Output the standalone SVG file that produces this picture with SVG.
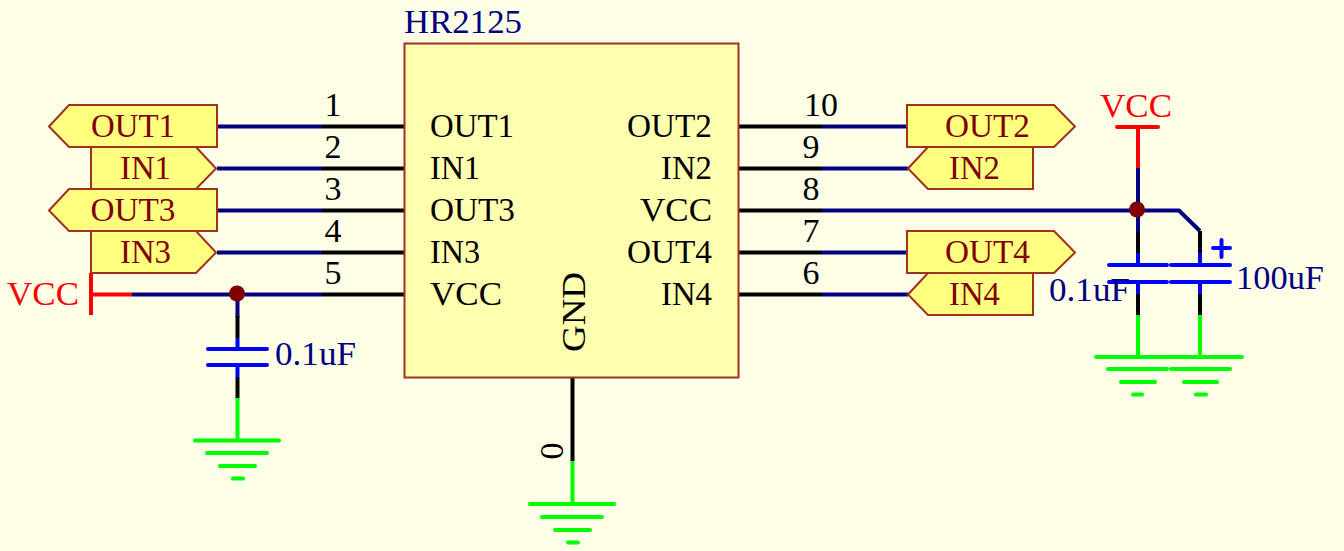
<svg xmlns="http://www.w3.org/2000/svg" width="1344" height="551" viewBox="0 0 1344 551">
<style>
text{font-family:"Liberation Serif","Times New Roman",serif;font-size:34px;lengthAdjust:spacingAndGlyphs}
.port{fill:#ffff80;stroke:#a03020;stroke-width:2}
.pl{fill:#800000;text-anchor:middle}
.pin{fill:#000;text-anchor:middle}
.in{fill:#000}
.val{fill:#000080}
.pwr{fill:#ff0000}
.w{fill:none;stroke-width:4}
.n{stroke:#000080}.k{stroke:#000}.b{stroke:#0000ff;stroke-linecap:round}.g{stroke:#00ff00}.gr{stroke:#00ff00;stroke-linecap:round}.r{stroke:#ff0000}
.j{fill:#800000}
</style>
<rect width="1344" height="551" fill="#ffffe8"/>
<g id="connectors">
<path class="w n" d="M217 126.500H322M217 168.500H322M217 210.500H322M217 252.500H322M132 294.500H322"/>
<path class="w k" d="M322 126.500H405M322 168.500H405M322 210.500H405M322 252.500H405M322 294.500H405"/>
<path class="w k" d="M738 126.500H822M738 168.500H822M738 210.500H822M738 252.500H822M738 294.500H822"/>
<path class="w n" d="M822 126.500H908M822 168.500H908M822 252.500H908M822 294.500H908M822 210.500H1179L1200 231"/>
<path class="w r" d="M91 273V315M91 294.500H132"/>
<path class="w n" d="M237.500 294V317"/>
<path class="w k" d="M237.500 316V338M237.500 377V398M572.500 377V461"/>
<path class="w b" style="stroke-linecap:butt" d="M237.500 338V349M237.500 365V377"/>
<path class="w g" d="M237.500 398V440M572.500 461V504"/>
<path class="w r" d="M1138 127V168"/>
<path class="w n" d="M1138 168V232"/>
<path class="w k" d="M1138 232V253M1200 231V253M1138 294V315M1200 294V315"/>
<path class="w b" style="stroke-linecap:butt" d="M1138 253V265M1200 253V265M1138 282V294M1200 282V294"/>
<path class="w g" d="M1138 315V357M1200 315V357"/>
</g>
<g id="U1">
<rect x="404.500" y="43.500" width="334" height="334" fill="#ffffb0" stroke="#a03020" stroke-width="2"/>
<text x="404" y="33" class="val" textLength="118" lengthAdjust="spacingAndGlyphs">HR2125</text>
<text class="in" x="430" y="137" textLength="84" lengthAdjust="spacingAndGlyphs">OUT1</text>
<text class="in" x="430" y="179" textLength="50" lengthAdjust="spacingAndGlyphs">IN1</text>
<text class="in" x="430" y="221" textLength="85" lengthAdjust="spacingAndGlyphs">OUT3</text>
<text class="in" x="430" y="263" textLength="50" lengthAdjust="spacingAndGlyphs">IN3</text>
<text class="in" x="430" y="305" textLength="72" lengthAdjust="spacingAndGlyphs">VCC</text>
<text class="in" x="627" y="137" textLength="85" lengthAdjust="spacingAndGlyphs">OUT2</text>
<text class="in" x="661" y="179" textLength="51" lengthAdjust="spacingAndGlyphs">IN2</text>
<text class="in" x="640" y="221" textLength="72" lengthAdjust="spacingAndGlyphs">VCC</text>
<text class="in" x="627" y="263" textLength="85" lengthAdjust="spacingAndGlyphs">OUT4</text>
<text class="in" x="661" y="305" textLength="51" lengthAdjust="spacingAndGlyphs">IN4</text>
<text class="in" transform="translate(585 352) rotate(-90)" textLength="80" lengthAdjust="spacingAndGlyphs">GND</text>
<text class="pin" x="333" y="116">1</text>
<text class="pin" x="333" y="158">2</text>
<text class="pin" x="333" y="200">3</text>
<text class="pin" x="333" y="242">4</text>
<text class="pin" x="333" y="284">5</text>
<text class="pin" x="811" y="284">6</text>
<text class="pin" x="811" y="242">7</text>
<text class="pin" x="811" y="200">8</text>
<text class="pin" x="811" y="158">9</text>
<text class="pin" x="821" y="116">10</text>
<text class="pin" transform="translate(563 451) rotate(-90)">0</text>
</g>
<g id="port-OUT1"><polygon class="port" points="49,126.500 69,105 217,105 217,147 69,147"/><text class="pl" x="133" y="137" textLength="84" lengthAdjust="spacingAndGlyphs">OUT1</text></g>
<g id="port-IN1"><polygon class="port" points="91,147 196,147 216,168.500 196,189 91,189"/><text class="pl" x="145.500" y="179" textLength="51" lengthAdjust="spacingAndGlyphs">IN1</text></g>
<g id="port-OUT3"><polygon class="port" points="49,210.500 69,189 217,189 217,231 69,231"/><text class="pl" x="133" y="221" textLength="85" lengthAdjust="spacingAndGlyphs">OUT3</text></g>
<g id="port-IN3"><polygon class="port" points="91,231 196,231 216,252.500 196,273 91,273"/><text class="pl" x="145.500" y="263" textLength="51" lengthAdjust="spacingAndGlyphs">IN3</text></g>
<g id="port-OUT2"><polygon class="port" points="907,105 1054,105 1075,126.500 1054,147 907,147"/><text class="pl" x="987.500" y="137" textLength="85" lengthAdjust="spacingAndGlyphs">OUT2</text></g>
<g id="port-IN2"><polygon class="port" points="908,168.500 928,147 1033,147 1033,189 928,189"/><text class="pl" x="974.500" y="179" textLength="51" lengthAdjust="spacingAndGlyphs">IN2</text></g>
<g id="port-OUT4"><polygon class="port" points="907,231 1054,231 1075,252.500 1054,273 907,273"/><text class="pl" x="987.500" y="263" textLength="85" lengthAdjust="spacingAndGlyphs">OUT4</text></g>
<g id="port-IN4"><polygon class="port" points="908,294.500 928,273 1033,273 1033,315 928,315"/><text class="pl" x="974.500" y="305" textLength="51" lengthAdjust="spacingAndGlyphs">IN4</text></g>
<g id="vcc-left"><text class="pwr" x="7" y="305" textLength="72" lengthAdjust="spacingAndGlyphs">VCC</text></g>
<g id="vcc-right"><path class="w r" style="stroke-linecap:round" d="M1117 127H1158"/><text class="pwr" x="1100" y="117" textLength="72" lengthAdjust="spacingAndGlyphs">VCC</text></g>
<g id="junctions">
<circle class="j" cx="237" cy="293.500" r="8"/>
<circle class="j" cx="1137" cy="209.500" r="8"/>
</g>
<g id="C1"><path class="w b" d="M208 349H267M208 365H267"/><text class="val" x="275" y="365" textLength="81" lengthAdjust="spacingAndGlyphs">0.1uF</text></g>
<g id="C2"><path class="w b" d="M1109 265H1167M1109 282H1167"/><text class="val" x="1049" y="301" textLength="81" lengthAdjust="spacingAndGlyphs">0.1uF</text></g>
<g id="C3"><path class="w b" d="M1171 265H1230M1171 282H1230M1213 248H1230M1221.500 240V257"/><text class="val" x="1236" y="289" textLength="88" lengthAdjust="spacingAndGlyphs">100uF</text></g>
<g id="gnd-left"><path class="w gr" d="M195 440.500H279M207 453H267M220 466H255M233 478.500H243"/></g>
<g id="gnd-bottom"><path class="w gr" d="M530 504H614M542 517H602M555 530H590M568 542.500H578"/></g>
<g id="gnd-right"><path class="w gr" d="M1096 357H1242M1108 369H1167M1171 369H1230M1121 382H1155M1184 382H1217M1133 394.500H1142M1196 394.500H1206"/></g>
</svg>
